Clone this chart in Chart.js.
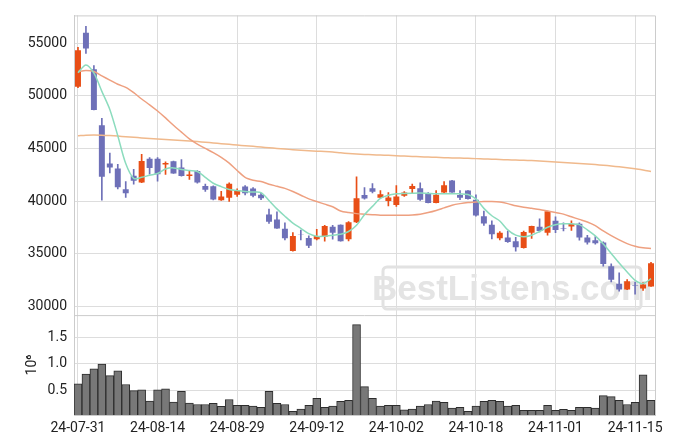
<!DOCTYPE html>
<html>
<head>
<meta charset="utf-8">
<script src="https://cdn.jsdelivr.net/npm/chart.js@4.4.0/dist/chart.umd.min.js"></script>
<style>
  html, body { margin: 0; padding: 0; background: #fff; }
  #wrap { width: 675px; height: 444px; }
</style>
</head>
<body>
<div id="wrap"><canvas id="my_stock_chart"></canvas></div>
<script>
// trading days
const dates = [
  "24-07-31", "24-08-01", "24-08-02", "24-08-05", "24-08-06", "24-08-07", "24-08-08", "24-08-09", "24-08-12", "24-08-13",
  "24-08-14", "24-08-16", "24-08-19", "24-08-20", "24-08-21", "24-08-22", "24-08-23", "24-08-26", "24-08-27", "24-08-28",
  "24-08-29", "24-08-30", "24-09-02", "24-09-03", "24-09-04", "24-09-05", "24-09-06", "24-09-09", "24-09-10", "24-09-11",
  "24-09-12", "24-09-13", "24-09-19", "24-09-20", "24-09-23", "24-09-24", "24-09-25", "24-09-26", "24-09-27", "24-09-30",
  "24-10-02", "24-10-04", "24-10-07", "24-10-08", "24-10-10", "24-10-11", "24-10-14", "24-10-15", "24-10-16", "24-10-17",
  "24-10-18", "24-10-21", "24-10-22", "24-10-23", "24-10-24", "24-10-25", "24-10-28", "24-10-29", "24-10-30", "24-10-31",
  "24-11-01", "24-11-04", "24-11-05", "24-11-06", "24-11-07", "24-11-08", "24-11-11", "24-11-12", "24-11-13", "24-11-14",
  "24-11-15", "24-11-18", "24-11-19",
];
const openPrices = [
  50870, 56000, 52530, 47210, 43560, 43090, 41120, 42400, 41750, 44030,
  44030, 43460, 43770, 43190, 42370, 42860, 41430, 41400, 40060, 40300,
  40590, 41370, 41190, 40590, 38710, 38240, 37360, 35240, 36820, 36490,
  36370, 36590, 37550, 37740, 36370, 37990, 40560, 41210, 40300, 39990,
  39620, 40490, 41150, 41210, 40740, 39810, 40810, 41960, 40560, 40990,
  40120, 38560, 37740, 36450, 36520, 36170, 35520, 36990, 37550, 36990,
  38120, 37400, 37580, 37830, 36520, 36270, 36050, 33800, 32140, 31580,
  32010, 31680, 31870,
];
const highPrices = [
  54620, 56600, 52870, 47870, 44560, 43490, 41840, 43020, 44430, 44120,
  44120, 43720, 43800, 43930, 42830, 42900, 41620, 41450, 40910, 41740,
  41150, 41460, 41280, 40740, 39240, 38960, 37930, 36990, 37240, 36680,
  37300, 37680, 37680, 37740, 38050, 42310, 41280, 41650, 40990, 40810,
  41460, 40900, 41620, 41740, 40800, 40990, 41840, 41960, 40990, 41000,
  40590, 39030, 38120, 37100, 37150, 36550, 37150, 37620, 38300, 39030,
  38490, 37930, 38120, 37930, 36740, 36610, 36110, 34020, 33170, 32520,
  32300, 32240, 34180,
];
const lowPrices = [
  50780, 54030, 48650, 40090, 42680, 41150, 40340, 41610, 41750, 42550,
  41890, 42520, 42620, 42370, 42060, 41700, 40900, 40100, 40060, 39950,
  40430, 40590, 40400, 40120, 37860, 37390, 36300, 35240, 36300, 35560,
  36300, 36170, 36370, 36170, 36210, 37930, 40180, 40780, 40300, 39530,
  39490, 40430, 40740, 40050, 39810, 39810, 40740, 40810, 40120, 40180,
  38560, 37680, 36400, 36300, 36050, 35240, 35520, 36450, 37060, 36740,
  36990, 37150, 37210, 36270, 35900, 35900, 33800, 32300, 31430, 31580,
  31150, 31490, 31870,
];
const closePrices = [
  54340, 54500, 48650, 42310, 43190, 41310, 40740, 41930, 43810, 43150,
  42550, 43620, 42620, 42370, 42520, 41770, 41060, 40150, 40430, 41640,
  40970, 40740, 40490, 40270, 38020, 37390, 36450, 36680, 36780, 35740,
  36680, 37620, 36990, 36170, 37990, 40270, 40240, 40870, 40650, 40340,
  40430, 40810, 41430, 40120, 39810, 40590, 41490, 40810, 40300, 40180,
  38620, 37860, 36830, 36990, 36110, 35610, 37060, 37620, 37150, 39030,
  37240, 37360, 37830, 36520, 36050, 35990, 34020, 32520, 31580, 32370,
  31970, 32050, 34080,
];
// moving averages
const ma5 = [
  52190, 52940, 52160, 50430, 48710, 46210, 43560, 42150, 42250, 42450,
  42620, 43050, 43150, 43000, 42900, 42800, 42250, 41690, 41370, 41100,
  41000, 40900, 40850, 40800, 40050, 39250, 38550, 37900, 37400, 36900,
  36650, 36650, 36740, 36830, 37100, 37700, 38700, 39490, 40250, 40550,
  40680, 40720, 40740, 40750, 40720, 40690, 40680, 40680, 40680, 40620,
  40200, 39300, 38600, 38100, 37250, 36750, 36600, 36740, 37100, 37500,
  37750, 37830, 37830, 37750, 37250, 36680, 35900, 35000, 34100, 33250,
  32460, 32150, 32610,
];
const ma20 = [
  52310, 52400, 52310, 51900, 51500, 51100, 50800, 50300, 49700, 49150,
  48560, 47900, 47200, 46550, 45900, 45400, 45000, 44600, 44150, 43600,
  42900, 42250, 41980, 41850, 41600, 41400, 41200, 40900, 40550, 40200,
  39950, 39700, 39450, 39050, 38900, 38800, 38750, 38700, 38650, 38650,
  38650, 38650, 38680, 38750, 38900, 39100, 39350, 39600, 39750, 39850,
  39900, 39950, 39950, 39900, 39750, 39550, 39400, 39300, 39200, 39050,
  38900, 38750, 38500, 38250, 38000, 37650, 37150, 36700, 36300, 35950,
  35700, 35550, 35490,
];
const ma120 = [
  46200, 46260, 46280, 46260, 46220, 46170, 46120, 46060, 46000, 45950,
  45900, 45850, 45800, 45750, 45700, 45650, 45590, 45520, 45450, 45390,
  45320, 45260, 45200, 45130, 45060, 45000, 44940, 44880, 44830, 44780,
  44740, 44700, 44650, 44580, 44520, 44470, 44430, 44400, 44370, 44340,
  44300, 44270, 44240, 44210, 44180, 44150, 44120, 44100, 44080, 44060,
  44030, 44000, 43980, 43950, 43920, 43900, 43870, 43840, 43800, 43760,
  43720, 43670, 43620, 43570, 43520, 43460, 43400, 43330, 43250, 43160,
  43060, 42950, 42800,
];
// volume in millions of shares
const volumes = [
  0.625, 0.81, 0.91, 1.0, 0.78, 0.87, 0.61, 0.495, 0.51, 0.295,
  0.51, 0.53, 0.275, 0.48, 0.257, 0.23, 0.23, 0.25, 0.195, 0.325,
  0.213, 0.213, 0.2, 0.176, 0.48, 0.25, 0.23, 0.1, 0.144, 0.213,
  0.345, 0.176, 0.2, 0.288, 0.307, 1.75, 0.57, 0.345, 0.2, 0.213,
  0.213, 0.126, 0.144, 0.2, 0.23, 0.295, 0.27, 0.163, 0.176, 0.1,
  0.2, 0.288, 0.307, 0.288, 0.2, 0.213, 0.12, 0.12, 0.12, 0.213,
  0.12, 0.138, 0.12, 0.176, 0.176, 0.16, 0.4, 0.38, 0.307, 0.23,
  0.27, 0.795, 0.307,
];
const priceTicks = [30000, 35000, 40000, 45000, 50000, 55000];
const volumeTicks = [0.5, 1.0, 1.5];
const labelEvery = 10;

const UP = "rgb(232, 78, 22)";
const DOWN = "rgb(110, 112, 184)";
const GRID = "rgb(221, 221, 221)";
const FONT = "Roboto";

const bodies = dates.map((d, i) => [openPrices[i], closePrices[i]]);
const wicks = dates.map((d, i) => [lowPrices[i], highPrices[i]]);
const candleColors = dates.map((d, i) => (closePrices[i] >= openPrices[i] ? UP : DOWN));

// frame + watermark
const framePlugin = {
  id: "frame",
  beforeDatasetsDraw(chart) {
    const { ctx } = chart;
    ctx.save();
    // watermark
    const bx = 383, by = 267, bw = 258, bh = 42;
    ctx.strokeStyle = "rgb(226, 226, 226)";
    ctx.lineWidth = 3;
    ctx.beginPath();
    ctx.roundRect(bx, by, bw, bh, 4);
    ctx.stroke();
    ctx.fillStyle = "rgb(228, 228, 228)";
    ctx.font = "bold 35px 'Liberation Sans', Arial, sans-serif";
    ctx.textAlign = "center";
    ctx.textBaseline = "middle";
    ctx.fillText("BestListens.com", bx + bw / 2, by + bh / 2 + 2);
    ctx.restore();
  },
  afterDraw(chart) {
    const { ctx, chartArea } = chart;
    const yPrice = chart.scales.y;
    ctx.save();
    ctx.strokeStyle = "rgb(204, 204, 204)";
    ctx.lineWidth = 1;
    ctx.beginPath();
    ctx.moveTo(chartArea.left, chartArea.top + 0.5);
    ctx.lineTo(chartArea.right + 0.5, chartArea.top + 0.5);
    ctx.lineTo(chartArea.right + 0.5, chartArea.bottom);
    ctx.moveTo(chartArea.left, yPrice.bottom + 0.5);
    ctx.lineTo(chartArea.right, yPrice.bottom + 0.5);
    ctx.stroke();
    ctx.restore();
  },
};

const stock_chart = document.getElementById("my_stock_chart");
new Chart(stock_chart, {
  data: {
    labels: dates,
    datasets: [
      { type: "line", data: ma5, yAxisID: "y", borderColor: "rgb(140, 220, 190)", borderWidth: 1.5, pointRadius: 0, tension: 0.3 },
      { type: "line", data: ma20, yAxisID: "y", borderColor: "rgb(238, 160, 128)", borderWidth: 1.5, pointRadius: 0, tension: 0.3 },
      { type: "line", data: ma120, yAxisID: "y", borderColor: "rgb(240, 185, 140)", borderWidth: 1.5, pointRadius: 0, tension: 0.3 },
      { type: "bar", data: bodies, yAxisID: "y", backgroundColor: candleColors, grouped: false, barPercentage: 0.75, categoryPercentage: 1 },
      { type: "bar", data: wicks, yAxisID: "y", backgroundColor: candleColors, grouped: false, barThickness: 1 },
      {
        type: "bar", data: volumes, yAxisID: "yVol", backgroundColor: "rgb(120, 120, 120)",
        borderColor: "rgb(45, 45, 45)", borderWidth: 1, grouped: false, barPercentage: 1, categoryPercentage: 1,
      },
    ],
  },
  options: {
    animation: false,
    responsive: true,
    maintainAspectRatio: false,
    layout: { padding: { left: 0, right: 20, top: 4, bottom: 0 } },
    plugins: { legend: { display: false }, tooltip: { enabled: false } },
    scales: {
      x: {
        type: "category",
        offset: true,
        grid: {
          offset: false,
          drawTicks: false,
          color: (c) => (c.index % labelEvery === 0 ? GRID : "transparent"),
        },
        border: { color: "rgb(204, 204, 204)" },
        ticks: {
          autoSkip: false,
          maxRotation: 0,
          padding: 5,
          color: "#222",
          font: { family: FONT, size: 14 },
          callback: (v, i) => (i % labelEvery === 0 ? dates[i] : ""),
        },
        afterFit: (s) => { s.height = 29; },
      },
      yVol: {
        type: "linear",
        position: "left",
        stack: "panes",
        stackWeight: 1,
        min: 0.03,
        max: 1.93,
        grid: { color: GRID, drawTicks: false },
        border: { color: "rgb(204, 204, 204)" },
        afterBuildTicks: (s) => { s.ticks = volumeTicks.map((v) => ({ value: v })); },
        ticks: {
          padding: 7,
          color: "#222",
          font: { family: FONT, size: 14 },
          callback: (v) => Number(v).toFixed(1),
        },
        title: { display: true, text: "10⁶", color: "#222", font: { family: FONT, size: 14 }, padding: { top: 24 } },
        afterFit: (s) => { s.width = 74; },
      },
      y: {
        type: "linear",
        position: "left",
        stack: "panes",
        stackWeight: 3,
        min: 29150,
        max: 57650,
        grid: { color: GRID, drawTicks: false },
        border: { color: "rgb(204, 204, 204)" },
        afterBuildTicks: (s) => { s.ticks = priceTicks.map((v) => ({ value: v })); },
        ticks: { padding: 7, color: "#222", font: { family: FONT, size: 14 }, callback: (v) => String(v) },
        afterFit: (s) => { s.width = 74; },
      },
    },
  },
  plugins: [framePlugin],
});
</script>
</body>
</html>
